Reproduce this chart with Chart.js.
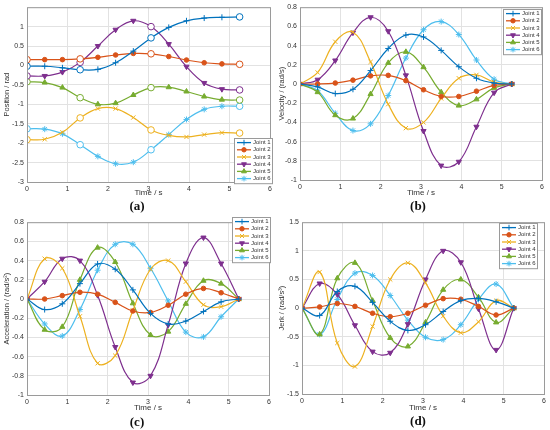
<!DOCTYPE html>
<html>
<head>
<meta charset="utf-8">
<script src="https://cdn.jsdelivr.net/npm/chart.js@4.4.1/dist/chart.umd.min.js"></script>
<style>
    body { margin: 0; background: #fff; width: 550px; height: 430px; position: relative; overflow: hidden; }
    .painel { position: absolute; width: 275px; height: 200px; }
    .legenda-fig { position: absolute; width: 40px; text-align: center; font-family: "Liberation Serif", "DejaVu Serif", serif; font-weight: bold; font-size: 13px; color: #111; }
</style>
</head>
<body>
<div class="painel" style="left:0;top:0"><canvas id="graficoA" width="275" height="200"></canvas></div>
<div class="painel" style="left:275px;top:0"><canvas id="graficoB" width="275" height="200"></canvas></div>
<div class="painel" style="left:0;top:215px"><canvas id="graficoC" width="275" height="200"></canvas></div>
<div class="painel" style="left:275px;top:215px"><canvas id="graficoD" width="275" height="200"></canvas></div>
<div class="legenda-fig" style="left:117px;top:198px">(a)</div>
<div class="legenda-fig" style="left:398px;top:198px">(b)</div>
<div class="legenda-fig" style="left:117px;top:414px">(c)</div>
<div class="legenda-fig" style="left:398px;top:413px">(d)</div>
<script>
const tempos = [0, 0.4375, 0.875, 1.3125, 1.75, 2.1875, 2.625, 3.0625, 3.5, 3.9375, 4.375, 4.8125, 5.25];
const juntas = ["Joint 1", "Joint 2", "Joint 3", "Joint 4", "Joint 5", "Joint 6"];
const cores = ["#0072BD", "#D95319", "#EDB120", "#7E2F8E", "#77AC30", "#4DBEEE"];
const estilos = ["cross", "circle", "crossRot", "triangle", "triangle", "star"];

const posicao = [
    [-0.02, -0.02, -0.06, -0.11, -0.1, 0.07, 0.37, 0.71, 0.98, 1.15, 1.22, 1.24, 1.25],
    [0.15, 0.15, 0.15, 0.17, 0.21, 0.27, 0.31, 0.3, 0.23, 0.14, 0.07, 0.04, 0.03],
    [-1.91, -1.9, -1.72, -1.35, -1.11, -1.11, -1.34, -1.66, -1.8, -1.84, -1.78, -1.73, -1.74],
    [-0.27, -0.27, -0.17, 0.08, 0.5, 0.92, 1.15, 1.0, 0.55, -0.03, -0.45, -0.61, -0.63],
    [-0.42, -0.44, -0.57, -0.83, -1.0, -0.97, -0.76, -0.57, -0.56, -0.67, -0.8, -0.88, -0.89],
    [-1.63, -1.64, -1.76, -2.04, -2.34, -2.53, -2.49, -2.17, -1.78, -1.39, -1.13, -1.05, -1.05],
];
const velocidade = [
    [0, -0.03, -0.1, -0.055, 0.14, 0.37, 0.51, 0.49, 0.35, 0.18, 0.06, 0.01, 0],
    [0, 0, 0.01, 0.04, 0.085, 0.09, 0.035, -0.06, -0.13, -0.13, -0.075, -0.015, 0],
    [0, 0.12, 0.44, 0.54, 0.23, -0.21, -0.46, -0.4, -0.15, 0.06, 0.095, 0.02, 0],
    [0, 0.045, 0.245, 0.535, 0.695, 0.55, 0.09, -0.49, -0.85, -0.81, -0.445, -0.09, 0],
    [0, -0.085, -0.325, -0.36, -0.105, 0.22, 0.335, 0.175, -0.085, -0.225, -0.16, -0.04, 0],
    [0, -0.07, -0.305, -0.485, -0.415, -0.12, 0.27, 0.565, 0.65, 0.515, 0.25, 0.05, 0],
];
const aceleracao = [
    [0, -0.11, -0.05, 0.16, 0.365, 0.31, 0.095, -0.15, -0.26, -0.23, -0.13, -0.03, 0],
    [0, 0, 0.035, 0.07, 0.05, -0.035, -0.125, -0.14, -0.065, 0.05, 0.11, 0.065, 0],
    [0, 0.42, 0.32, -0.18, -0.67, -0.59, -0.12, 0.31, 0.4, 0.18, -0.06, -0.08, 0],
    [0, 0.18, 0.42, 0.4, 0.04, -0.5, -0.87, -0.8, -0.27, 0.37, 0.64, 0.37, 0],
    [0, -0.32, -0.29, 0.2, 0.535, 0.385, -0.045, -0.375, -0.34, -0.05, 0.19, 0.16, 0],
    [0, -0.26, -0.385, -0.11, 0.3, 0.57, 0.57, 0.32, -0.02, -0.345, -0.395, -0.185, 0],
];
const solavanco = [
    [0, -0.13, 0.29, 0.38, 0.1, -0.23, -0.39, -0.29, -0.06, 0.13, 0.17, 0.11, 0],
    [0, 0.02, 0.08, 0.03, -0.09, -0.15, -0.09, 0.05, 0.165, 0.155, 0.03, -0.12, 0],
    [0, 0.63, -0.61, -1.02, -0.32, 0.5, 0.79, 0.44, -0.14, -0.43, -0.24, 0.13, 0],
    [0, 0.43, 0.24, -0.3, -0.76, -0.78, -0.28, 0.5, 1.0, 0.8, -0.01, -0.73, 0],
    [0, -0.46, 0.52, 0.79, 0.13, -0.52, -0.67, -0.25, 0.32, 0.5, 0.19, -0.25, 0],
    [0, -0.46, 0.15, 0.61, 0.57, 0.22, -0.21, -0.51, -0.55, -0.29, 0.15, 0.42, 0],
];

// pontos de passagem (marcados com círculo) no gráfico de posição
const pontosPassagem = [0, 3, 7, 12];

const moldura = {
    id: "moldura",
    afterDraw(chart, args, opts) {
        const { ctx, chartArea: a } = chart;
        ctx.save();
        ctx.strokeStyle = "#9a9a9a";
        ctx.lineWidth = 1;
        ctx.strokeRect(a.left + 0.5, a.top + 0.5, a.right - a.left, a.bottom - a.top);

        const lg = opts.legenda;
        const alturaItem = 7.2;
        const largura = 38;
        const altura = alturaItem * 6 + 2;
        ctx.fillStyle = "#fff";
        ctx.fillRect(lg.x, lg.y, largura, altura);
        ctx.strokeStyle = "#9a9a9a";
        ctx.strokeRect(lg.x + 0.5, lg.y + 0.5, largura, altura);
        ctx.font = "6px 'Liberation Sans', Arial, sans-serif";
        ctx.textBaseline = "middle";
        chart.data.datasets.forEach((ds, i) => {
            const y = lg.y + 1 + alturaItem * (i + 0.5);
            ctx.strokeStyle = cores[i];
            ctx.fillStyle = cores[i];
            ctx.lineWidth = 1.3;
            ctx.beginPath();
            ctx.moveTo(lg.x + 3, y);
            ctx.lineTo(lg.x + 17, y);
            ctx.stroke();
            ctx.lineWidth = 1;
            Chart.helpers.drawPoint(ctx, {
                pointStyle: estilos[i],
                rotation: i === 3 ? 180 : 0,
                radius: i === 1 ? 2.2 : 2.8,
                borderWidth: 1,
            }, lg.x + 10, y);
            ctx.fillStyle = "#333";
            ctx.fillText(ds.label, lg.x + 19, y);
        });
        ctx.restore();
    },
};

function criarSerie(i, valores, circulos) {
    const ehCirculo = (k) => circulos.includes(k);
    return {
        label: juntas[i],
        data: tempos.map((t, k) => ({ x: t, y: valores[k] })),
        borderColor: cores[i],
        backgroundColor: cores[i],
        borderWidth: 1.2,
        tension: 0.4,
        pointStyle: tempos.map((t, k) => (ehCirculo(k) ? "circle" : estilos[i])),
        pointRotation: tempos.map((t, k) => (!ehCirculo(k) && i === 3 ? 180 : 0)),
        pointRadius: tempos.map((t, k) => (ehCirculo(k) ? 3.3 : i === 1 ? 2.3 : 3)),
        pointBackgroundColor: tempos.map((t, k) => (ehCirculo(k) ? "#fff" : cores[i])),
        pointBorderColor: cores[i],
        pointBorderWidth: 1,
    };
}

function formatarTick(v) {
    return String(Number(v.toFixed(2)));
}

function criarGrafico(cfg) {
    const W = 275, H = 200;
    const ctx = document.getElementById(cfg.id).getContext("2d");
    new Chart(ctx, {
        type: "line",
        data: {
            datasets: cfg.valores.map((v, i) => criarSerie(i, v, cfg.circulos)),
        },
        options: {
            responsive: false,
            animation: false,
            layout: { padding: { top: cfg.topo, right: W - cfg.direita, left: 0, bottom: 0 } },
            plugins: {
                legend: { display: false },
                tooltip: { enabled: false },
                moldura: { legenda: cfg.legenda },
            },
            scales: {
                x: {
                    type: "linear",
                    min: 0,
                    max: 6,
                    ticks: { stepSize: 1, font: { size: 7 }, color: "#333", padding: 3, maxRotation: 0 },
                    grid: { color: "#e2e2e2", drawTicks: false },
                    border: { display: false },
                    title: { display: true, text: "Time / s", font: { size: 8 }, color: "#333", padding: { top: 0, bottom: 2 } },
                    afterFit(s) { s.height = H - cfg.base; },
                },
                y: {
                    min: cfg.ymin,
                    max: cfg.ymax,
                    ticks: {
                        stepSize: cfg.passo,
                        font: { size: 7 },
                        color: "#333",
                        padding: 3,
                        callback: (v) => (cfg.ocultar === v ? "" : formatarTick(v)),
                    },
                    grid: { color: "#e2e2e2", drawTicks: false },
                    border: { display: false },
                    title: { display: true, text: cfg.titulo, font: { size: 7.5 }, color: "#333", padding: { top: 2, bottom: 0 } },
                    afterFit(s) { s.width = cfg.esquerda; },
                },
            },
        },
        plugins: [moldura],
    });
}

criarGrafico({
    id: "graficoA", valores: posicao, circulos: pontosPassagem,
    esquerda: 27, direita: 271, topo: 6, base: 182,
    ymin: -3, ymax: 1.5, passo: 0.5, ocultar: 1.5,
    titulo: "Position / rad", legenda: { x: 234, y: 138 },
});
criarGrafico({
    id: "graficoB", valores: velocidade, circulos: [],
    esquerda: 25, direita: 267, topo: 5, base: 180,
    ymin: -1, ymax: 0.8, passo: 0.2,
    titulo: "Velocity / (rad/s)", legenda: { x: 228, y: 9 },
});
criarGrafico({
    id: "graficoC", valores: aceleracao, circulos: [],
    esquerda: 27, direita: 269, topo: 4, base: 180,
    ymin: -1, ymax: 0.8, passo: 0.2,
    titulo: "Acceleration / (rad/s²)", legenda: { x: 232, y: 2 },
});
criarGrafico({
    id: "graficoD", valores: solavanco, circulos: [],
    esquerda: 27, direita: 269, topo: 4, base: 179,
    ymin: -1.5, ymax: 1.5, passo: 0.5,
    titulo: "Jerk / (rad/s³)", legenda: { x: 224, y: 8 },
});
</script>
</body>
</html>
